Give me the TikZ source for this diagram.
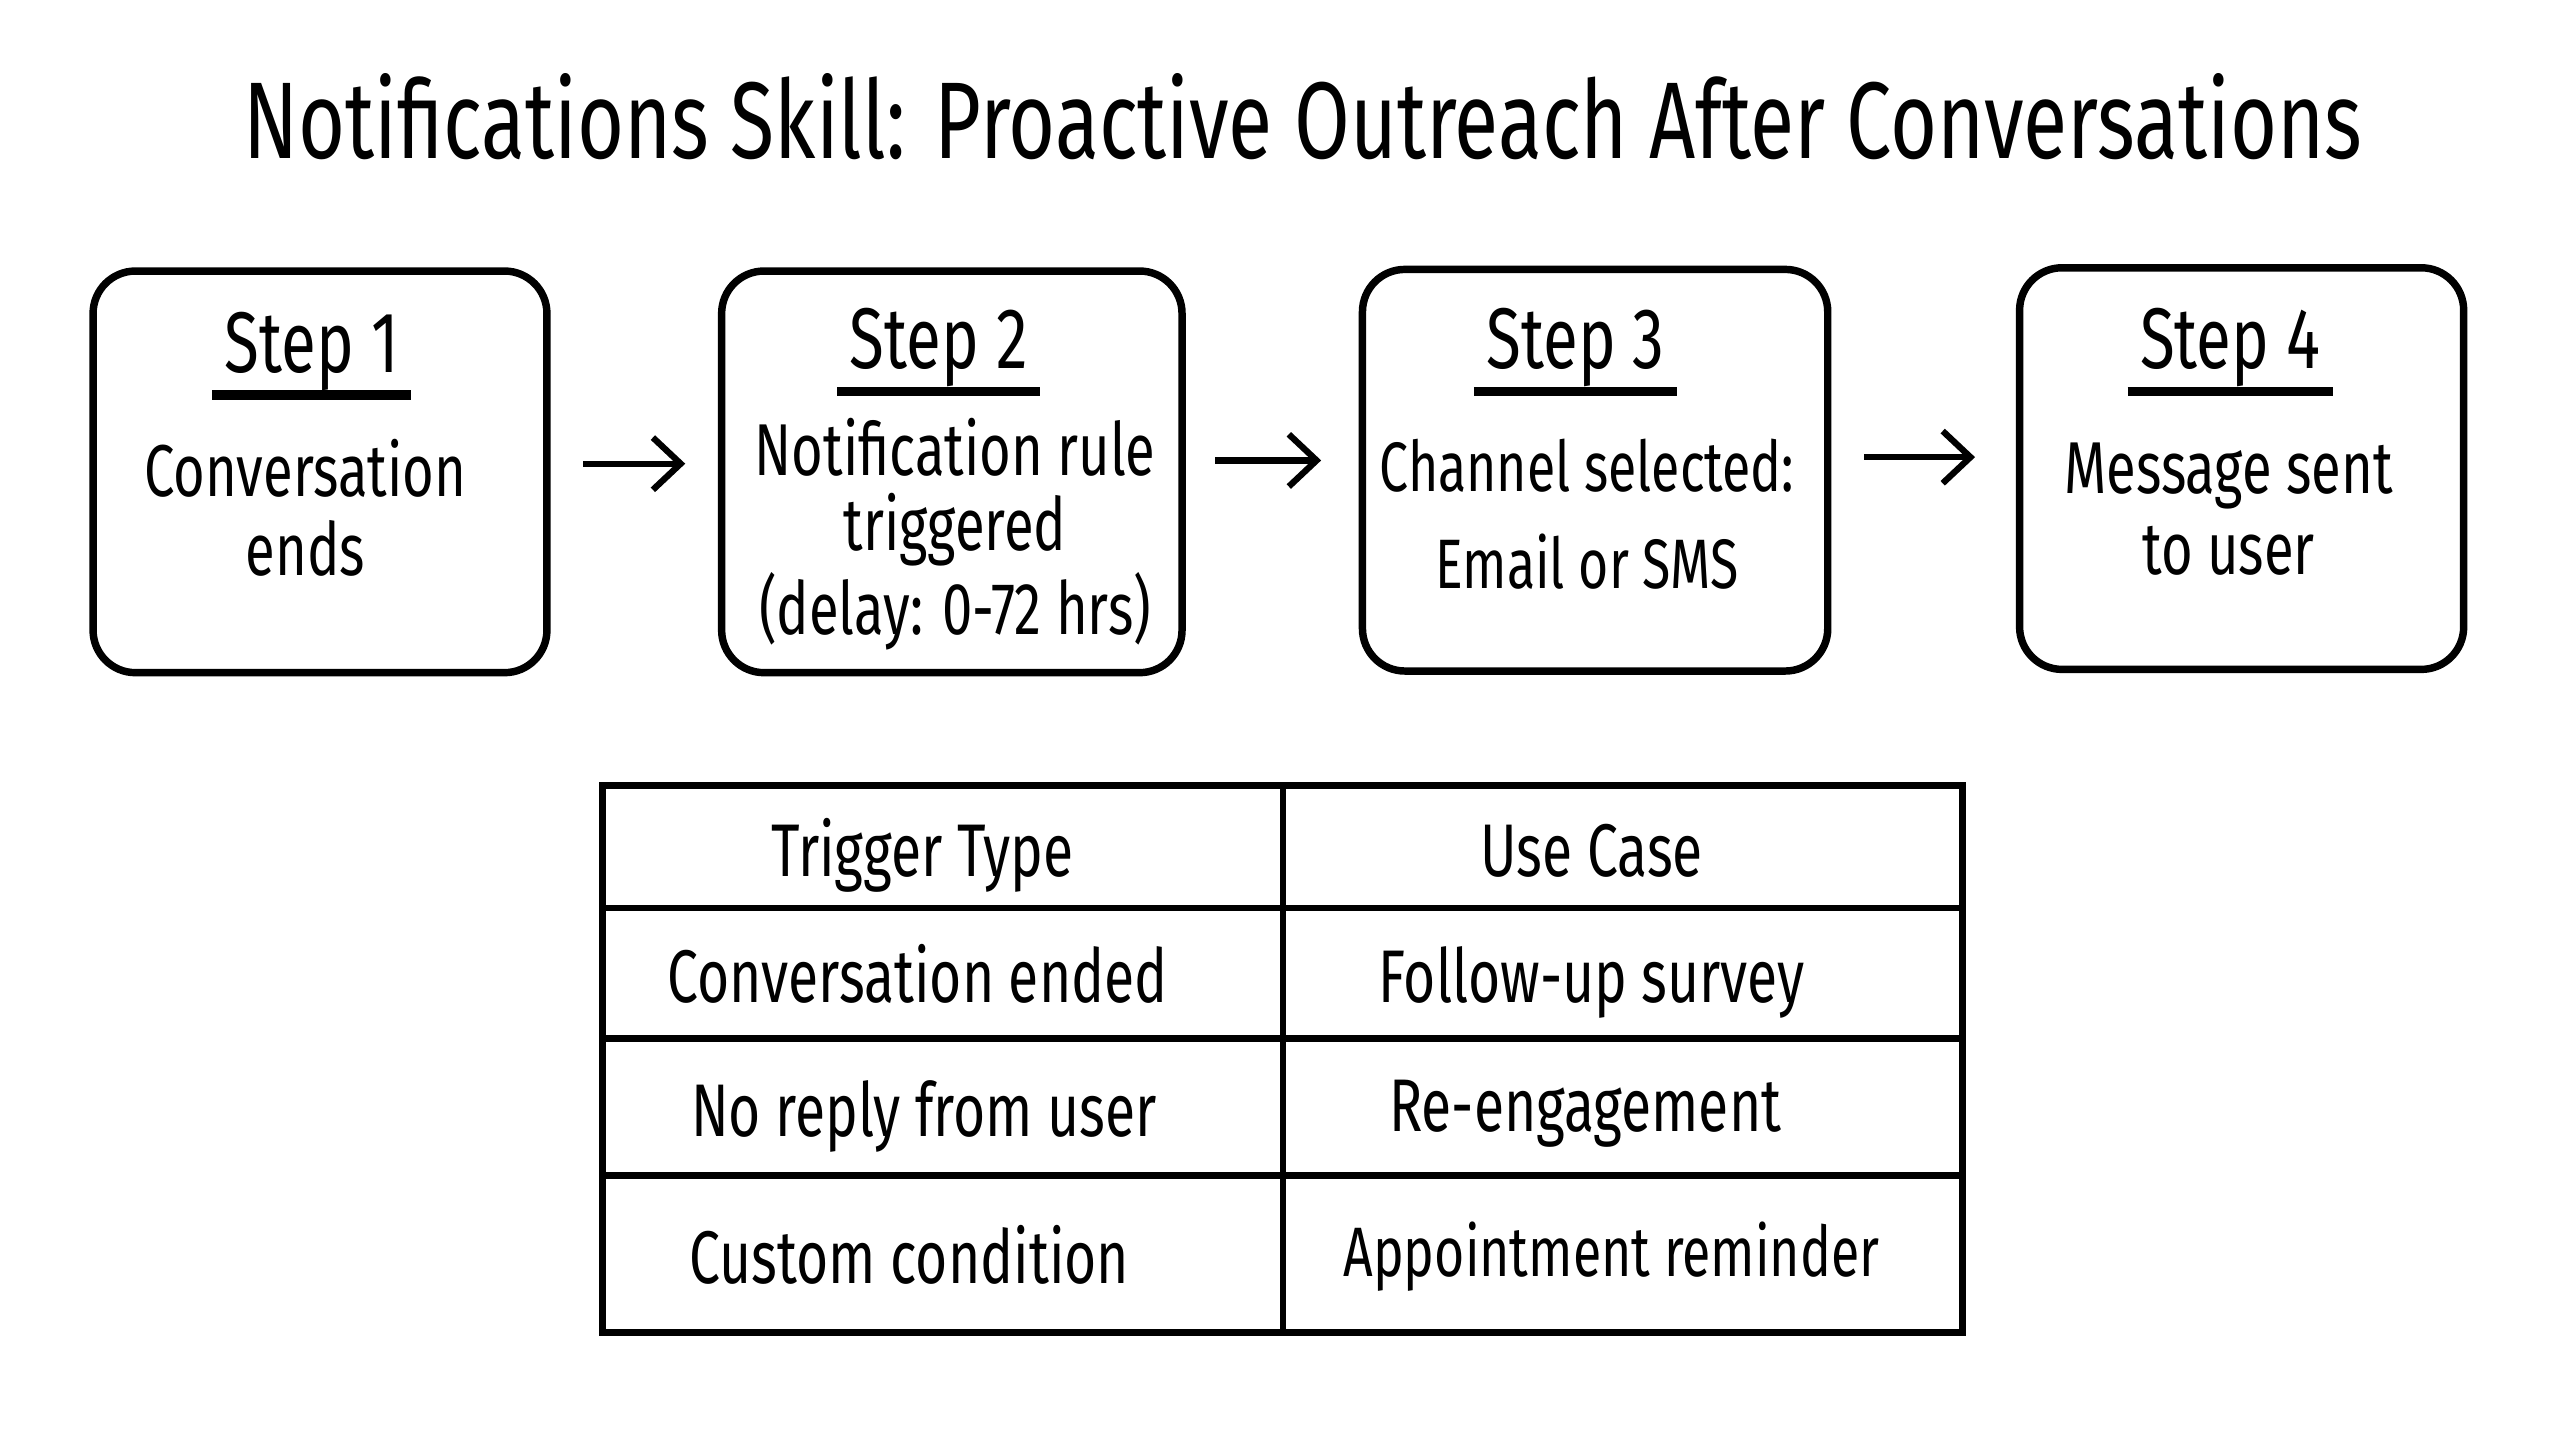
\documentclass[tikz,border=0pt]{standalone}
\usepackage{fontspec}
\setmainfont{Fira Sans}[FakeStretch=0.74]
\usetikzlibrary{arrows.meta,calc}

\tikzset{
	stepbox/.style={draw, line width=1.3pt, rounded corners=2.6mm, inner sep=0pt, minimum height=24.6mm},
	steptitle/.style={anchor=base, inner xsep=0.7mm, inner ysep=0.2mm, font=\fontsize{15}{16}\selectfont},
	steptext/.style={align=center, inner sep=0pt, font=\fontsize{12.8}{13.2}\selectfont},
	uline/.style={line width=1.6pt},
	flow/.style={line width=1.1pt, -{Straight Barb[length=1.7mm, width=3.2mm, line width=1.1pt]}},
	cell/.style={anchor=base, inner sep=0pt, font=\fontsize{13}{15}\selectfont},
	grid/.style={line width=1.1pt}
}

\begin{document}
\begin{tikzpicture}[x=0.1mm, y=-0.1mm]
	\useasboundingbox (0,0) rectangle (1568,882);

	\node[anchor=base, font=\fontsize{19}{22}\selectfont] (title) at (798,97) {Notifications Skill: Proactive Outreach After Conversations};

	% the four steps
	\node[stepbox, minimum width=27.8mm] (s1) at (196,289) {};
	\node[stepbox, minimum width=28.2mm] (s2) at (583,289) {};
	\node[stepbox, minimum width=28.5mm] (s3) at (977,288) {};
	\node[stepbox, minimum width=27.2mm] (s4) at (1373,287) {};

	\node[steptitle] (h1) at (191,228) {Step 1};
	\node[steptitle] (h2) at (575,226) {Step 2};
	\node[steptitle] (h3) at (965,226) {Step 3};
	\node[steptitle] (h4) at (1366,226) {Step 4};

	\draw[uline] (h1.south west) -- (h1.south east);
	\draw[uline] (h2.south west) -- (h2.south east);
	\draw[uline] (h3.south west) -- (h3.south east);
	\draw[uline] (h4.south west) -- (h4.south east);

	\node[steptext] (b1) at (187,311) {Conversation\\[0.2mm]ends};
	\node[steptext] (b2) at (585,327) {Notification rule\\triggered\\(delay: 0-72 hrs)};
	\node[steptext, font=\fontsize{12.2}{13}\selectfont] (b3) at (972,315) {Channel selected:\\[1.4mm]Email or SMS};
	\node[steptext] (b4) at (1365,312) {Message sent\\[0.3mm]to user};

	\draw[flow, shorten <=2mm, shorten >=2mm] ($(s1.east)+(0,-5)$) -- ($(s2.west)+(0,-5)$);
	\draw[flow, shorten <=1.8mm, shorten >=2.3mm] ($(s2.east)+(0,-7)$) -- ($(s3.west)+(0,-6)$);
	\draw[flow, shorten <=2mm, shorten >=2.5mm] ($(s3.east)+(0,-8)$) -- ($(s4.west)+(0,-7)$);

	% table of triggers
	\coordinate (tl) at (369,481);
	\coordinate (br) at (1202,816);
	\draw[grid, line width=1.3pt] (tl) rectangle (br);
	\draw[grid] (786,481) -- (786,816);
	\draw[grid] (369,556) -- (1202,556);
	\draw[grid] (369,636) -- (1202,636);
	\draw[grid] (369,720) -- (1202,720);

	\node[cell] (c11) at (565,537) {Trigger Type};
	\node[cell] (c12) at (975,537) {Use Case};
	\node[cell] (c21) at (562,614) {Conversation ended};
	\node[cell] (c22) at (975,614) {Follow-up survey};
	\node[cell] (c31) at (566,696) {No reply from user};
	\node[cell] (c32) at (971,693) {Re-engagement};
	\node[cell] (c41) at (557,786) {Custom condition};
	\node[cell, font=\fontsize{12.2}{15}\selectfont] (c42) at (987,782) {Appointment reminder};
\end{tikzpicture}
\end{document}
